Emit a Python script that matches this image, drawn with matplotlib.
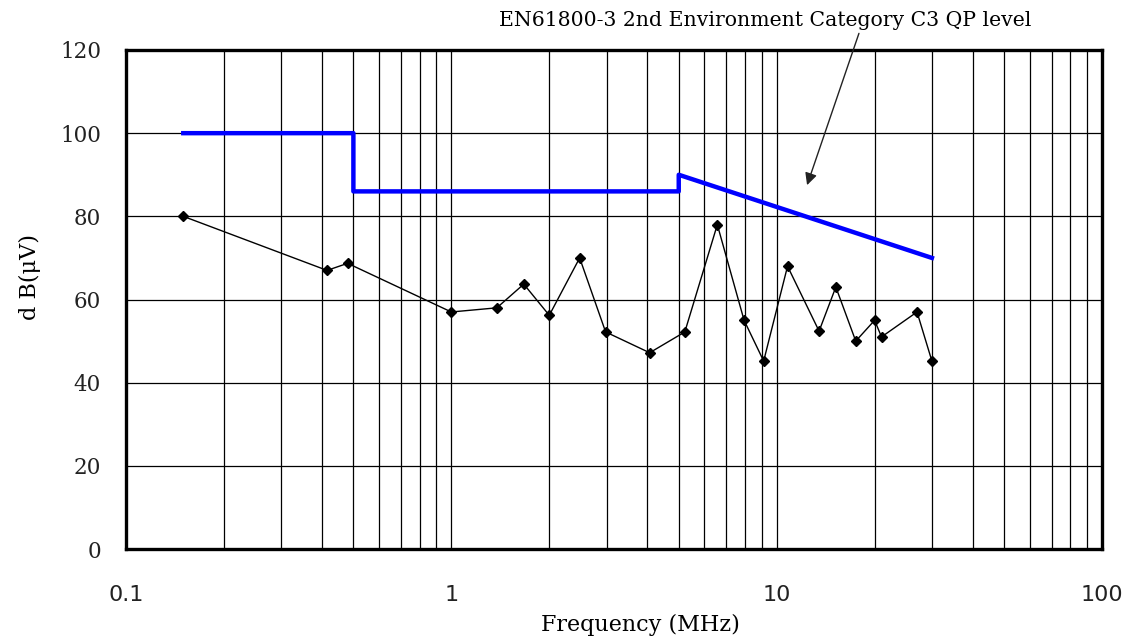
import numpy as np
import matplotlib.pyplot as plt
from matplotlib.ticker import FixedLocator, NullFormatter

# Datos medidos (MHz, dBµV)
freq = [0.15, 0.415, 0.48, 1.0, 1.38, 1.67, 2.0, 2.48, 2.98, 4.07, 5.22,
        6.57, 7.94, 9.12, 10.8, 13.5, 15.2, 17.5, 20.0, 21.0, 27.0, 30.0]
nivel = [80, 67, 68.7, 57, 58, 63.7, 56.2, 70, 52.2, 47.2, 52.2,
         78, 55, 45.2, 68, 52.4, 63, 50, 55, 51, 57, 45.2]

# Limite EN61800-3 C3 QP
lim_freq = [0.15, 0.5, 0.5, 5.0, 5.0, 30.0]
lim_nivel = [100, 100, 86, 86, 90, 70]

xticks = [0.1, 1, 10, 100]
xlabels = ['0.1', '1', '10', '100']
yticks = [0, 20, 40, 60, 80, 100, 120]

def graficar():
    fig = plt.figure(figsize=(11.34, 6.41), dpi=100)
    ax = fig.add_axes([0.1111, 0.1435, 0.8607, 0.7785])

    ax.plot(lim_freq, lim_nivel, color='#0000ff', lw=3.2, zorder=3)
    ax.plot(freq, nivel, color='black', lw=1.0, marker='D', ms=5.5,
            zorder=4)

    ax.set_xscale('log')
    ax.set_xlim(0.1, 100)
    ax.set_ylim(0, 120)

    ax.set_xticks(xticks)
    ax.set_xticklabels(xlabels, fontsize=16, family='DejaVu Sans',
                       color='#222222')
    minor = [m * 10.0 ** e for e in (-1, 0, 1) for m in range(2, 10)]
    ax.xaxis.set_minor_locator(FixedLocator(minor))
    ax.xaxis.set_minor_formatter(NullFormatter())
    ax.set_yticks(yticks)
    ax.set_yticklabels([str(v) for v in yticks], fontsize=15.5,
                       family='DejaVu Serif', color='#222222')

    ax.tick_params(axis='both', which='both', length=0)
    ax.tick_params(axis='x', pad=26)
    ax.tick_params(axis='y', pad=18)

    ax.grid(True, which='both', color='black', lw=0.9)
    for s in ax.spines.values():
        s.set_linewidth(2.4)

    ax.set_xlabel('Frequency (MHz)', fontsize=16, family='DejaVu Serif',
                  va='center')
    ax.xaxis.set_label_coords(0.527, -0.153)
    ax.set_ylabel('d B(μV)', fontsize=16, family='DejaVu Serif',
                  va='center')
    ax.yaxis.set_label_coords(-0.0985, 0.545)

    ax.text(9.19, 124.8, 'EN61800-3 2nd Environment Category C3 QP level',
            ha='center', va='bottom', fontsize=14.7, family='DejaVu Serif')
    ax.annotate('', xy=(12.4, 87.5), xytext=(17.9, 124.0),
                textcoords='data', annotation_clip=False,
                arrowprops=dict(arrowstyle='-|>', color='#222222', lw=1.0,
                                mutation_scale=18, shrinkA=0, shrinkB=0))

    fig.savefig('out.png', dpi=100)

if __name__ == "__main__":
    graficar()
